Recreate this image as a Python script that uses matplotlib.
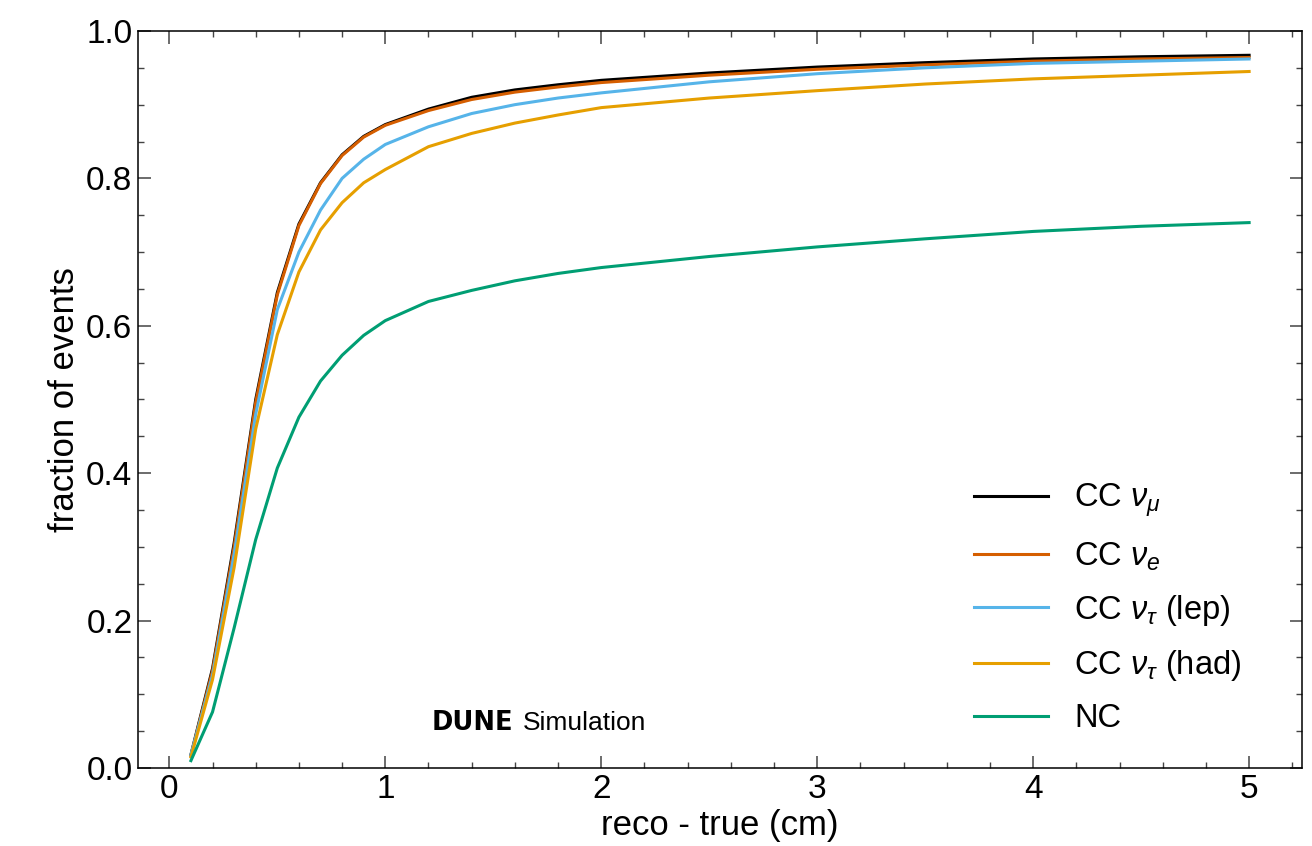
import matplotlib
matplotlib.use('Agg')
import matplotlib.pyplot as plt
from matplotlib.ticker import MultipleLocator, AutoMinorLocator

plt.rcParams['font.family'] = ['Liberation Sans', 'DejaVu Sans']
plt.rcParams['mathtext.fontset'] = 'custom'
plt.rcParams['mathtext.rm'] = 'Liberation Sans'
plt.rcParams['mathtext.it'] = 'Liberation Sans:italic'
plt.rcParams['mathtext.bf'] = 'Liberation Sans:bold'

# reco - true distance (cm)
dist = [0.1, 0.2, 0.3, 0.4, 0.5, 0.6, 0.7, 0.8, 0.9, 1.0,
        1.2, 1.4, 1.6, 1.8, 2.0, 2.5, 3.0, 3.5, 4.0, 4.5, 5.0]

# cumulative fraction of events per interaction type
cc_numu = [0.018, 0.135, 0.305, 0.500, 0.645, 0.738, 0.794, 0.832, 0.857, 0.873,
           0.894, 0.910, 0.920, 0.927, 0.933, 0.943, 0.951, 0.957, 0.962, 0.965, 0.967]
cc_nue = [0.017, 0.132, 0.300, 0.496, 0.642, 0.736, 0.793, 0.831, 0.856, 0.872,
          0.892, 0.907, 0.917, 0.924, 0.930, 0.940, 0.948, 0.954, 0.959, 0.962, 0.964]
cc_nutau_lep = [0.018, 0.126, 0.290, 0.480, 0.622, 0.700, 0.757, 0.800, 0.826, 0.846,
                0.870, 0.888, 0.900, 0.909, 0.916, 0.931, 0.942, 0.950, 0.956, 0.959, 0.962]
cc_nutau_had = [0.015, 0.120, 0.272, 0.460, 0.588, 0.673, 0.730, 0.767, 0.794, 0.812,
                0.843, 0.861, 0.875, 0.886, 0.896, 0.909, 0.919, 0.928, 0.935, 0.940, 0.945]
nc = [0.010, 0.076, 0.190, 0.310, 0.407, 0.476, 0.525, 0.560, 0.587, 0.607,
      0.633, 0.648, 0.661, 0.671, 0.679, 0.694, 0.707, 0.718, 0.728, 0.735, 0.740]

series = [
    (cc_numu, r'CC $\nu_\mu$', 'black'),
    (cc_nue, r'CC $\nu_e$', '#D55E00'),
    (cc_nutau_lep, r'CC $\nu_\tau$ (lep)', '#56B4E9'),
    (cc_nutau_had, r'CC $\nu_\tau$ (had)', '#E69F00'),
    (nc, 'NC', '#009E73'),
]

fig = plt.figure(figsize=(13.12, 8.46), dpi=100)
ax = fig.add_axes([0.1052, 0.0922, 0.8872, 0.8712])

for vals, label, color in series:
    ax.plot(dist, vals, color=color, lw=2.2, label=label)

ax.set_ylim(0, 1.0)
ax.xaxis.set_major_locator(MultipleLocator(1))
ax.xaxis.set_minor_locator(AutoMinorLocator(5))
ax.yaxis.set_major_locator(MultipleLocator(0.2))
ax.yaxis.set_minor_locator(AutoMinorLocator(4))
ax.tick_params(which='both', direction='in', top=True, right=True, labelsize=24, color='#444444')
ax.tick_params(which='major', length=9, width=1.1, pad=4)
ax.tick_params(which='minor', length=4.5, width=1.0)
for sp in ax.spines.values():
    sp.set_linewidth(1.1)

ax.set_xlabel('reco - true (cm)', fontsize=25, labelpad=3)
ax.set_ylabel('fraction of events', fontsize=25, labelpad=4)

ax.legend(loc='upper left', bbox_to_anchor=(0.707, 0.406), borderaxespad=0,
          fontsize=23.5, frameon=False, handlelength=2.27, handletextpad=0.8,
          labelspacing=0.62)

ax.text(0.2526, 0.0516, 'DUNE', transform=ax.transAxes, fontsize=18.5, fontweight='bold',
        family='DejaVu Sans', va='baseline', ha='left')
ax.text(0.3308, 0.0516, 'Simulation', transform=ax.transAxes, fontsize=19,
        va='baseline', ha='left')

fig.savefig('out.png', dpi=100)
